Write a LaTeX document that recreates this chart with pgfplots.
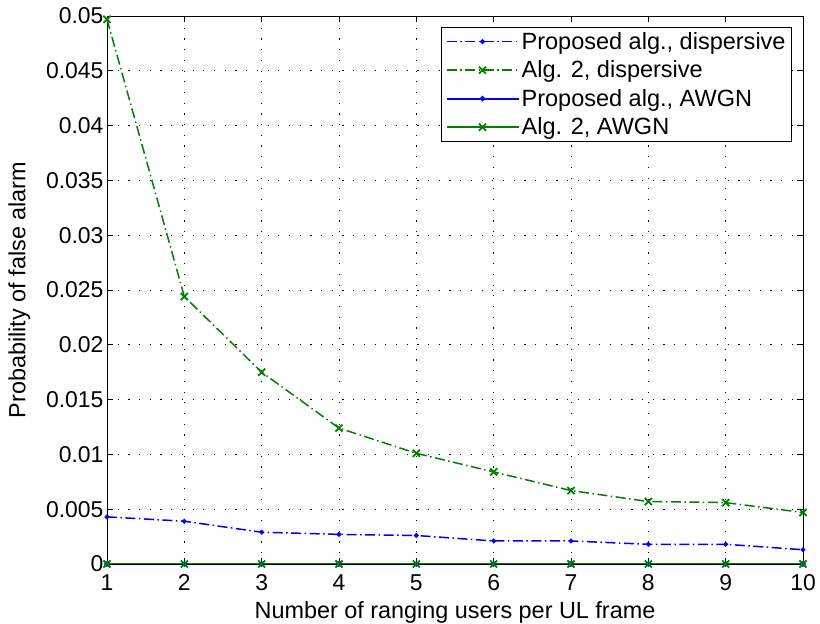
\documentclass[border=0pt]{standalone}
\usepackage{pgfplots}
\pgfplotsset{compat=1.18}
\usepackage{fontspec}
\setmainfont{Liberation Sans}
\definecolor{mblue}{rgb}{0,0,1}
\definecolor{mgreen}{rgb}{0,0.5,0}
\newcommand\tickfont{\fontsize{23}{26}\selectfont}
\newcommand\labfont{\fontsize{23.5}{26}\selectfont}
\newcommand\legfont{\fontsize{23.6}{27}\selectfont}
\begin{document}
\begin{tikzpicture}
\begin{axis}[
  scale only axis,
  width=696bp, height=548bp,
  xmin=1, xmax=10, ymin=0, ymax=0.05,
  xtick={1,...,10},
  ytick={0,0.005,...,0.0501},
  scaled y ticks=false,
  yticklabel style={/pgf/number format/fixed,/pgf/number format/precision=3},
  /pgf/number format/assume math mode=true,
  tick align=inside,
  major tick length=6bp,
  tick style={black, line width=0.6bp},
  grid=major,
  major grid style={black, line width=0.6bp, dash pattern=on 1.2bp off 9.5bp},
  axis line style={line width=0.8bp},
  every tick label/.append style={font=\tickfont},
  every axis label/.append style={font=\labfont},
  xticklabel style={yshift=-7bp},
  xlabel={Number of ranging users per UL frame},
  ylabel={Probability of false alarm},
  xlabel style={yshift=-4bp},
  ylabel style={yshift=9bp},
  legend style={at={(rel axis cs:0.9842,0.98)}, anchor=north east, draw=black, line width=0.8bp,
    font=\legfont, row sep=6bp, inner xsep=4bp, inner ysep=3bp,
    nodes={inner sep=2bp}},
  legend cell align=left,
  legend image code/.code={\draw[#1] (0bp,0bp) -- (72bp,0bp); \path[#1,solid] plot coordinates {(36bp,0bp)};},
]
\coordinate (ll) at (rel axis cs:0,0);
\coordinate (ur) at (rel axis cs:1,1);
\addplot[mblue, line width=1.5bp, dash pattern=on 10bp off 3.5bp on 1.5bp off 3.5bp, mark=*, mark size=1.6bp, mark options={solid}]
coordinates {(1,0.0043)(2,0.0039)(3,0.0029)(4,0.0027)(5,0.0026)(6,0.0021)(7,0.0021)(8,0.0018)(9,0.0018)(10,0.0013)};
\addlegendentry{Proposed alg., dispersive}
\addplot[mgreen, line width=1.5bp, dash pattern=on 10bp off 3.5bp on 1.5bp off 3.5bp, mark=x, mark size=5bp, mark options={solid, line width=1.8bp}]
coordinates {(1,0.0497)(2,0.0244)(3,0.0175)(4,0.0124)(5,0.0101)(6,0.0084)(7,0.0067)(8,0.0057)(9,0.0056)(10,0.0047)};
\addlegendentry{Alg. 2, dispersive}
\addplot[mblue, line width=2bp, mark=*, mark size=1.6bp]
coordinates {(1,0)(2,0)(3,0)(4,0)(5,0)(6,0)(7,0)(8,0)(9,0)(10,0)};
\addlegendentry{Proposed alg., AWGN}
\addplot[mgreen, line width=2.2bp, mark=x, mark size=5bp, mark options={line width=1.8bp}]
coordinates {(1,0)(2,0)(3,0)(4,0)(5,0)(6,0)(7,0)(8,0)(9,0)(10,0)};
\addlegendentry{Alg. 2, AWGN}
\end{axis}
\pgfresetboundingbox
\path ([shift={(-107bp,-60bp)}]ll) rectangle ([shift={(17bp,16bp)}]ur);
\end{tikzpicture}
\end{document}
